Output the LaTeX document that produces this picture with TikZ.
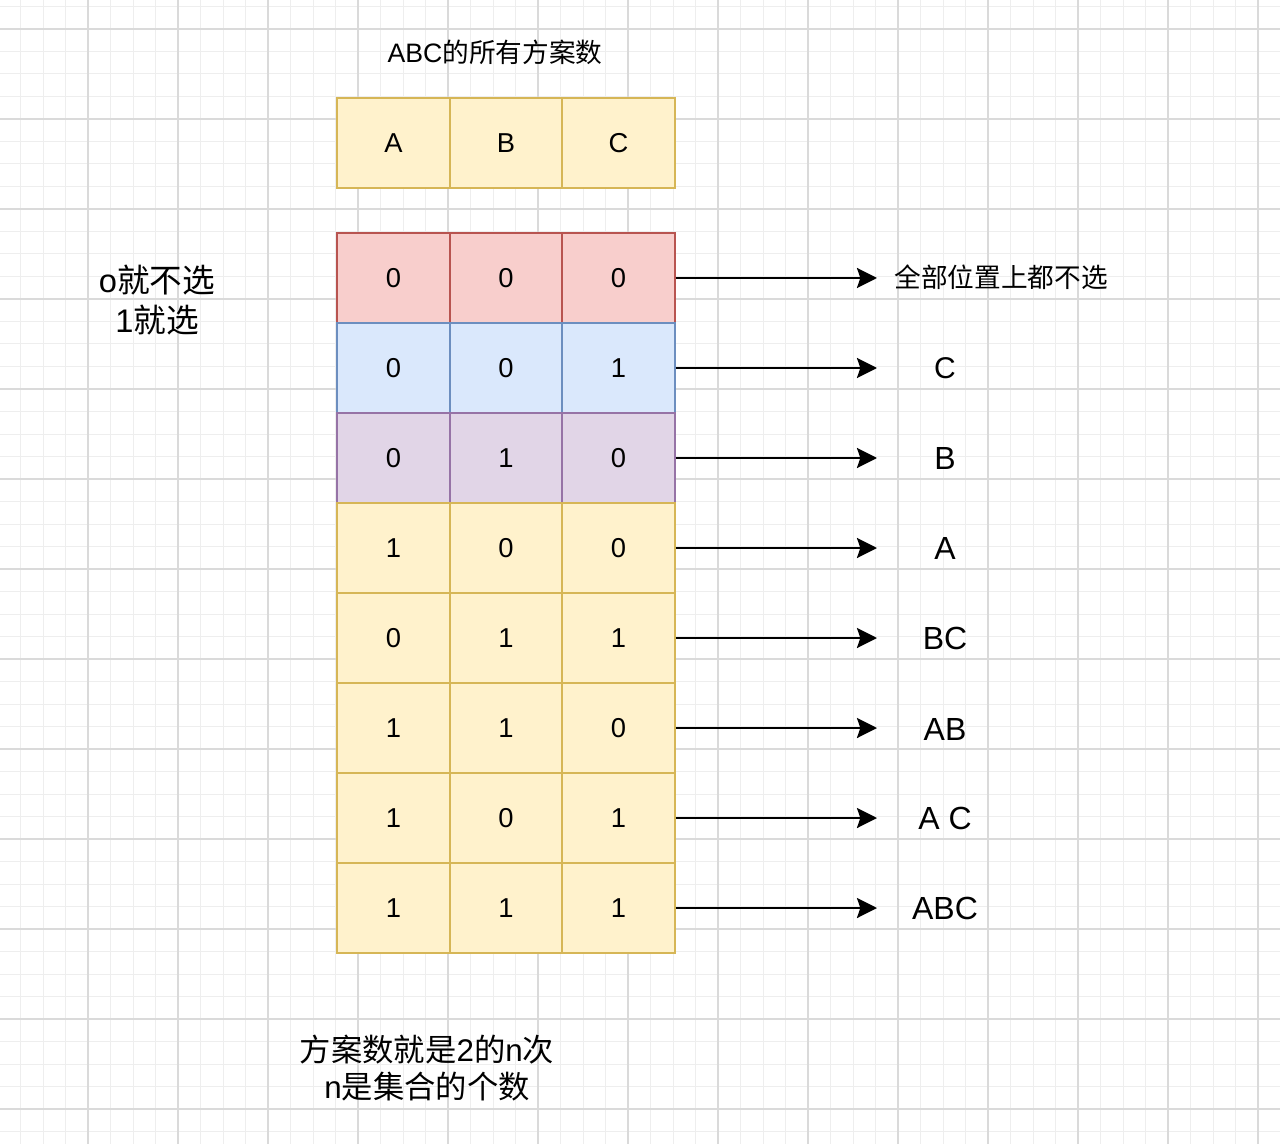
\documentclass[tikz,border=0pt]{standalone}
\usepackage{fontspec}
\setmainfont{Liberation Sans}
\newfontfamily\cjk{Noto Sans CJK SC}
\usetikzlibrary{arrows.meta}
\definecolor{ylwF}{HTML}{FFF2CC}
\definecolor{ylwD}{HTML}{D6B656}
\definecolor{redF}{HTML}{F8CECC}
\definecolor{redD}{HTML}{B85450}
\definecolor{bluF}{HTML}{DAE8FC}
\definecolor{bluD}{HTML}{6C8EBF}
\definecolor{purF}{HTML}{E1D5E7}
\definecolor{purD}{HTML}{9673A6}
\definecolor{gMinor}{HTML}{EEEEEE}
\definecolor{gMajor}{HTML}{DADADA}
\tikzset{
  gminor/.style={draw=gMinor, line width=0.75pt},
  gmajor/.style={draw=gMajor, line width=1pt},
  cell/.style={rectangle, line width=1.8pt, minimum width=84.375pt, minimum height=67.5pt, inner sep=0pt, text=black, font=\fontsize{20.5}{24}\selectfont},
  ycell/.style={cell, fill=ylwF, draw=ylwD},
  rcell/.style={cell, fill=redF, draw=redD},
  bcell/.style={cell, fill=bluF, draw=bluD},
  pcell/.style={cell, fill=purF, draw=purD},
  lbl/.style={inner sep=0pt, text=black, font=\fontsize{24}{28}\selectfont},
  arr/.style={draw=black, line width=1.9pt, -{Stealth[length=15pt, width=15pt, inset=2.5pt]}}
}
\begin{document}
\begin{tikzpicture}[x=0.75pt, y=-0.75pt]
\useasboundingbox (0,0) rectangle (1280,1144);
\fill[white] (0,0) rectangle (1280,1144);
% grid
\foreach \i in {0,...,57} \draw[gminor] ({-2+22.5*\i},0) -- ({-2+22.5*\i},1144);
\foreach \j in {0,...,51} \draw[gminor] (0,{6.5+22.5*\j}) -- (1280,{6.5+22.5*\j});
\foreach \i in {0,...,14} \draw[gmajor] ({-2+90*\i},0) -- ({-2+90*\i},1144);
\foreach \j in {-1,...,12} \draw[gmajor] (0,{29+90*\j}) -- (1280,{29+90*\j});
% title
\node[inner sep=0pt, font=\fontsize{20}{24}\selectfont] (title) at (495,52) {ABC{\cjk 的所有方案数}};
% header cells
\node[ycell] (h1) at (393.5,143) {A};
\node[ycell] (h2) at (506,143) {B};
\node[ycell] (h3) at (618.5,143) {C};
% table
\foreach \r/\st/\a/\b/\c in {1/rcell/0/0/0, 2/bcell/0/0/1, 3/pcell/0/1/0, 4/ycell/1/0/0, 5/ycell/0/1/1, 6/ycell/1/1/0, 7/ycell/1/0/1, 8/ycell/1/1/1}{
  \node[\st] (c\r1) at (393.5,{278+90*(\r-1)}) {\a};
  \node[\st] (c\r2) at (506,{278+90*(\r-1)}) {\b};
  \node[\st] (c\r3) at (618.5,{278+90*(\r-1)}) {\c};
  \coordinate (e\r) at (877,{278+90*(\r-1)});
}
% labels
\node[lbl, font=\fontsize{20}{24}\selectfont\cjk] (l1) at (1001,277) {全部位置上都不选};
\node[lbl, font=\fontsize{22.5}{26}\selectfont] (l2) at (945,368) {C};
\node[lbl] (l3) at (945,458) {B};
\node[lbl] (l4) at (945,548) {A};
\node[lbl] (l5) at (945,638) {BC};
\node[lbl] (l6) at (945,729) {AB};
\node[lbl] (l7) at (945,818) {A C};
\node[lbl] (l8) at (945,908) {ABC};
% arrows
\foreach \r in {1,...,8} \draw[arr] (c\r3.east) -- (e\r);
% side note
\node[inner sep=0pt, align=center, font=\fontsize{24.5}{30}\selectfont] (sel) at (157,300) {o{\cjk 就不选}\\1{\cjk 就选}};
% bottom note
\node[inner sep=0pt, align=center, font=\fontsize{23.5}{28}\selectfont] (note) at (427,1068) {{\cjk 方案数就是}2{\cjk 的}n{\cjk 次}\\n{\cjk 是集合的个数}};
\end{tikzpicture}
\end{document}
